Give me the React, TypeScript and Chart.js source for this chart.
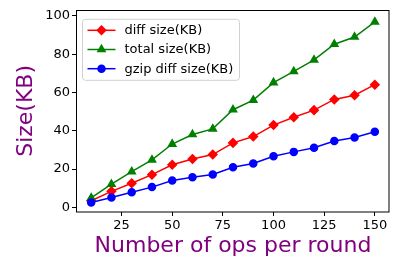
import React, { useEffect, useRef } from 'react';
import { Chart, registerables } from 'chart.js';
import { drawPoint } from 'chart.js/helpers';

Chart.register(...registerables);

const opsPerRound = [10, 20, 30, 40, 50, 60, 70, 80, 90, 100, 110, 120, 130, 140, 150];
const diffSize = [3.5, 8.4, 12.6, 17.1, 22.3, 25.3, 27.6, 33.7, 37.0, 43.0, 47.1, 50.8, 56.4, 58.6, 64.1];
const totalSize = [5.0, 12.1, 18.7, 24.8, 33.1, 38.1, 41.0, 51.0, 56.0, 65.2, 71.0, 77.0, 85.2, 89.0, 96.9];
const gzipDiffSize = [2.6, 5.2, 7.9, 10.6, 14.0, 15.8, 17.2, 21.0, 22.9, 26.7, 29.0, 31.2, 34.7, 36.5, 39.5];
const seriesLabels = ['diff size(KB)', 'total size(KB)', 'gzip diff size(KB)'];
const xTicks = [25, 50, 75, 100, 125, 150];
const yTicks = [0, 20, 40, 60, 80, 100];

const FONT = "'DejaVu Sans', sans-serif";
const PURPLE = '#800080';

const frameAndLegend = {
  id: 'frameAndLegend',
  afterDatasetsDraw(chart: any) {
    const { ctx, chartArea } = chart;
    const { left, top, right, bottom } = chartArea;
    ctx.save();
    // frame
    ctx.strokeStyle = '#000';
    ctx.lineWidth = 1;
    ctx.strokeRect(Math.round(left) - 0.5, Math.round(top) + 0.5, Math.round(right - left) + 0.5, Math.round(bottom - top) - 0.5);
    // legend box
    const bx = left + 5.5;
    const by = top + 9.5;
    const bw = 157;
    const bh = 61;
    ctx.beginPath();
    (ctx as any).roundRect(bx, by, bw, bh, 3);
    ctx.fillStyle = 'rgba(255,255,255,0.8)';
    ctx.fill();
    ctx.strokeStyle = '#d0d0d0';
    ctx.stroke();
    chart.data.datasets.forEach((ds: any, i: number) => {
      const y = by + 11 + i * 19.2;
      ctx.beginPath();
      ctx.strokeStyle = ds.borderColor;
      ctx.lineWidth = 1.5;
      ctx.moveTo(bx + 5, y);
      ctx.lineTo(bx + 33, y);
      ctx.stroke();
      ctx.fillStyle = ds.pointBackgroundColor;
      ctx.strokeStyle = ds.pointBorderColor;
      drawPoint(ctx, { pointStyle: ds.pointStyle, radius: ds.pointRadius, rotation: 0, borderWidth: 1 } as any, bx + 19, y);
      ctx.fillStyle = '#000';
      ctx.font = `13px ${FONT}`;
      ctx.textBaseline = 'middle';
      ctx.textAlign = 'left';
      ctx.fillText(ds.label, bx + 42, y + 0.5);
    });
    ctx.restore();
  },
};

function toPoints(ys: number[]) {
  return opsPerRound.map((x, i) => ({ x, y: ys[i] }));
}

export default function App() {
  const ref = useRef<HTMLCanvasElement | null>(null);
  useEffect(() => {
    document.body.style.margin = '0';
    if (!ref.current) return;
    const chart = new Chart(ref.current, {
      type: 'line',
      data: {
        datasets: [
          {
            label: seriesLabels[0],
            data: toPoints(diffSize),
            borderColor: '#ff0000',
            backgroundColor: '#ff0000',
            pointBackgroundColor: '#ff0000',
            pointBorderColor: '#ff0000',
            pointStyle: 'rectRot',
            pointRadius: 4.2,
            borderWidth: 1.5,
            order: 3,
          },
          {
            label: seriesLabels[1],
            data: toPoints(totalSize),
            borderColor: '#008000',
            backgroundColor: '#008000',
            pointBackgroundColor: '#008000',
            pointBorderColor: '#008000',
            pointStyle: 'triangle',
            pointRadius: 4.2,
            borderWidth: 1.5,
            order: 2,
          },
          {
            label: seriesLabels[2],
            data: toPoints(gzipDiffSize),
            borderColor: '#0000ff',
            backgroundColor: '#0000ff',
            pointBackgroundColor: '#0000ff',
            pointBorderColor: '#0000ff',
            pointStyle: 'circle',
            pointRadius: 3.5,
            borderWidth: 1.5,
            order: 1,
          },
        ],
      },
      options: {
        animation: false,
        responsive: false,
        maintainAspectRatio: false,
        layout: { padding: { left: 0, right: 8, top: 7, bottom: 0 } },
        plugins: { legend: { display: false }, tooltip: { enabled: false } },
        elements: { line: { tension: 0 } },
        scales: {
          x: {
            type: 'linear',
            min: 3,
            max: 157,
            afterBuildTicks: (s: any) => { s.ticks = xTicks.map((v) => ({ value: v })); },
            afterFit: (s: any) => { s.height = 49; },
            grid: { drawOnChartArea: false, drawTicks: true, tickLength: 4, tickColor: '#000' },
            border: { display: false },
            ticks: { color: '#000', font: { family: FONT, size: 13 }, padding: 2, maxRotation: 0 },
            title: {
              display: true,
              text: 'Number of ops per round',
              color: PURPLE,
              font: { family: FONT, size: 22, lineHeight: 1.2 },
              padding: { top: 0, bottom: 2 },
            },
          },
          y: {
            type: 'linear',
            min: -2.4,
            max: 103.2,
            afterBuildTicks: (s: any) => { s.ticks = yTicks.map((v) => ({ value: v })); },
            afterFit: (s: any) => { s.width = 77; },
            grid: { drawOnChartArea: false, drawTicks: true, tickLength: 5, tickColor: '#000' },
            border: { display: false },
            ticks: { color: '#000', font: { family: FONT, size: 13 }, padding: 2 },
            title: {
              display: true,
              text: 'Size(KB)',
              color: PURPLE,
              font: { family: FONT, size: 22, lineHeight: 1.2 },
              padding: { top: 13, bottom: 0 },
            },
          },
        },
      },
      plugins: [frameAndLegend],
    } as any);
    return () => chart.destroy();
  }, []);
  return (
    <div style={{ width: 397, height: 261 }}>
      <canvas ref={ref} width={397} height={261} style={{ width: 397, height: 261, display: 'block' }} />
    </div>
  );
}
